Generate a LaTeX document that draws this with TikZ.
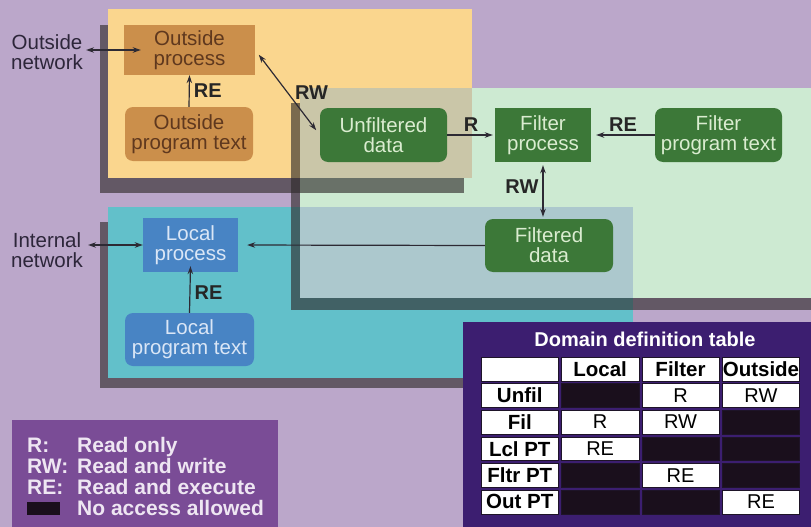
\documentclass[tikz,border=0pt]{standalone}
\usepackage{fontspec}
\setmainfont{Liberation Sans}
\usetikzlibrary{arrows.meta}
\definecolor{bgc}{RGB}{187,167,202}
\definecolor{oreg}{RGB}{250,214,142}
\definecolor{greg}{RGB}{205,234,210}
\definecolor{creg}{RGB}{98,192,202}
\definecolor{ogov}{RGB}{202,198,168}
\definecolor{cgov}{RGB}{172,200,205}
\definecolor{shadowc}{RGB}{45,40,40}
\definecolor{obox}{RGB}{203,143,75}
\definecolor{otext}{RGB}{95,56,30}
\definecolor{gbox}{RGB}{60,120,56}
\definecolor{gtext}{RGB}{218,236,208}
\definecolor{bbox}{RGB}{72,132,196}
\definecolor{btext}{RGB}{218,230,246}
\definecolor{legbg}{RGB}{122,76,150}
\definecolor{legtext}{RGB}{238,230,242}
\definecolor{tabbg}{RGB}{60,30,112}
\definecolor{blkc}{RGB}{26,15,28}
\definecolor{celledge}{RGB}{30,20,40}
\definecolor{arrc}{RGB}{45,42,52}
\definecolor{darktext}{RGB}{45,38,58}
\newcommand\ddcell[4]{\node[cellw,#3] (c#1#2) at ({519.75+80.4*#2},{368.9+26.6*#1}) {#4};}
\begin{document}
\begin{tikzpicture}[x=1pt,y=-1pt,
  every node/.style={inner sep=0pt},
  nodetxt/.style={align=center,font=\fontsize{20.5}{20}\selectfont},
  obx/.style={nodetxt,fill=obox,text=otext},
  gbx/.style={nodetxt,fill=gbox,text=gtext},
  bbx/.style={nodetxt,fill=bbox,text=btext},
  rnd/.style={rounded corners=8pt},
  conn/.style={draw=arrc,line width=1.2pt,-{Stealth[length=8pt,width=5.5pt]}},
  dconn/.style={draw=arrc,line width=1.2pt,{Stealth[length=8pt,width=5.5pt]}-{Stealth[length=8pt,width=5.5pt]}},
  lbl/.style={font=\fontsize{20}{20}\selectfont\bfseries,text=black!85,inner sep=4pt},
  nettxt/.style={align=center,font=\fontsize{20.5}{20}\selectfont,text=darktext,inner sep=2pt},
  shd/.style={fill=shadowc,fill opacity=0.62},
  cellw/.style={draw=celledge,line width=0.6pt,fill=white,minimum width=77.5pt,minimum height=23.8pt,font=\fontsize{20}{20}\selectfont},
  blk/.style={fill=blkc},
  hdr/.style={font=\fontsize{20.5}{20}\selectfont\bfseries},
  legtxt/.style={anchor=base west,font=\fontsize{21}{21}\selectfont\bfseries,text=legtext}
]
\useasboundingbox (0,0) rectangle (811,527);
\fill[bgc] (0,0) rectangle (811,527);
% domain regions
\fill[oreg] (108,9) rectangle (472,178);
\fill[creg] (108,207) rectangle (633,378);
\fill[greg] (300,88) rectangle (811,298);
\fill[ogov] (300,88) rectangle (472,178);
\fill[cgov] (300,207) rectangle (633,298);
% shadows
\fill[shd] (100,25) rectangle (108,193);
\fill[shd] (108,178) rectangle (464,193);
\fill[shd] (100,222) rectangle (108,388);
\fill[shd] (108,378) rectangle (625,388);
\fill[shd] (291,103) rectangle (300,310);
\fill[shd] (300,298) rectangle (811,310);
% legend and table backgrounds
\fill[legbg] (12,420) rectangle (278,527);
\fill[tabbg] (463,322) rectangle (811,527);

% nodes: outside domain
\node[obx,minimum width=131pt,minimum height=50pt] (op) at (189.5,50) {Outside\\process};
\node[obx,rnd,minimum width=128pt,minimum height=54pt] (opt) at (189,134) {Outside\\program text};
% filter domain
\node[gbx,rnd,minimum width=127pt,minimum height=54pt] (ud) at (383.5,135) {Unfiltered\\data};
\node[gbx,minimum width=96pt,minimum height=54pt] (fp) at (543,135) {Filter\\process};
\node[gbx,rnd,minimum width=127pt,minimum height=54pt] (fpt) at (718.5,135) {Filter\\program text};
\node[gbx,rnd,minimum width=128pt,minimum height=53pt] (fd) at (549,245.5) {Filtered\\data};
% local domain
\node[bbx,minimum width=95pt,minimum height=54pt] (lp) at (190.5,245) {Local\\process};
\node[bbx,rnd,minimum width=129pt,minimum height=53pt] (lpt) at (189.5,339.5) {Local\\program text};
% network labels
\node[nettxt] (onet) at (47,52.5) {Outside\\network};
\node[nettxt] (inet) at (47,250) {Internal\\network};

% connectors
\draw[dconn] ([xshift=1pt]onet.east |- op.west) -- ([xshift=17pt]op.west);
\draw[dconn] ([xshift=3pt]inet.east |- lp.west) -- (lp.west);
\draw[conn] (opt.north) -- node[lbl,right] {RE} (op.south);
\draw[conn] (lpt.north) -- node[lbl,right,yshift=-3pt] {RE} ([yshift=6pt]lp.south);
\draw[dconn,shorten <=6pt,shorten >=6pt] (op.east) -- node[lbl,right,xshift=3pt] {RW} (ud.west);
\draw[conn,shorten >=2pt] (ud.east) -- node[lbl,above,yshift=-1pt] {R} (fp.west);
\draw[conn,shorten >=5pt] (fpt.west) -- node[lbl,above,yshift=-1pt] {RE} (fp.east);
\draw[dconn,shorten <=3pt,shorten >=2pt] (fp.south) -- node[lbl,left,yshift=4pt] {RW} (fp.south |- fd.north);
\draw[conn,shorten >=9pt] (fd.west) -- (lp.east);

% table
\node[font=\fontsize{20}{20}\selectfont\bfseries,text=white] (ttl) at (645,339.5) {Domain definition table};
\ddcell{0}{0}{}{}
\ddcell{0}{1}{hdr}{Local}
\ddcell{0}{2}{hdr}{Filter}
\ddcell{0}{3}{hdr}{Outside}
\ddcell{1}{0}{hdr}{Unfil}
\ddcell{1}{1}{blk}{}
\ddcell{1}{2}{}{R}
\ddcell{1}{3}{}{RW}
\ddcell{2}{0}{hdr}{Fil}
\ddcell{2}{1}{}{R}
\ddcell{2}{2}{}{RW}
\ddcell{2}{3}{blk}{}
\ddcell{3}{0}{hdr}{Lcl PT}
\ddcell{3}{1}{}{RE}
\ddcell{3}{2}{blk}{}
\ddcell{3}{3}{blk}{}
\ddcell{4}{0}{hdr}{Fltr PT}
\ddcell{4}{1}{blk}{}
\ddcell{4}{2}{}{RE}
\ddcell{4}{3}{blk}{}
\ddcell{5}{0}{hdr}{Out PT}
\ddcell{5}{1}{blk}{}
\ddcell{5}{2}{blk}{}
\ddcell{5}{3}{}{RE}

% legend
\node[legtxt] (k1) at (27,452) {R:};
\node[legtxt] (v1) at (77,452) {Read only};
\node[legtxt] (k2) at (27,473) {RW:};
\node[legtxt] (v2) at (77,473) {Read and write};
\node[legtxt] (k3) at (27,494) {RE:};
\node[legtxt] (v3) at (77,494) {Read and execute};
\node[fill=blkc,minimum width=33pt,minimum height=13pt] (k4) at (43.5,508.5) {};
\node[legtxt] (v4) at (77,515) {No access allowed};
\end{tikzpicture}
\end{document}
